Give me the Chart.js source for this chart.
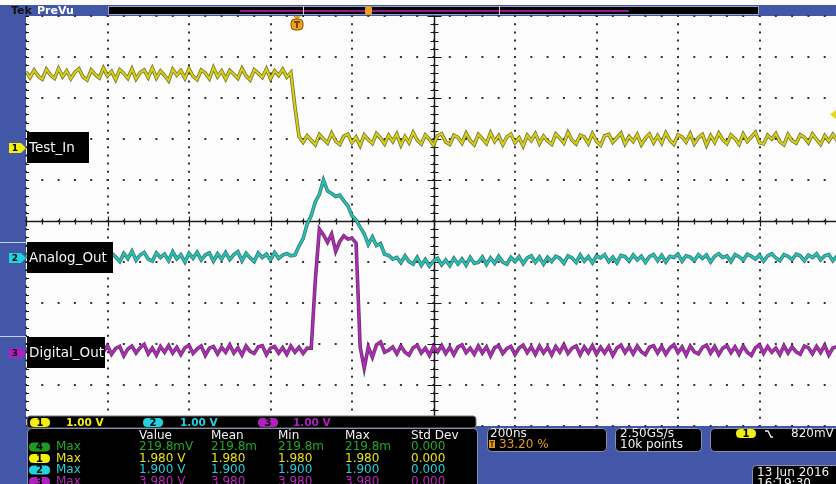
<!DOCTYPE html>
<html>
<head>
<meta charset="utf-8">
<script src="https://cdn.jsdelivr.net/npm/chart.js@4.4.1/dist/chart.umd.min.js"></script>
<style>
  html, body { margin: 0; padding: 0; overflow: hidden; background: #fff; }
  canvas { display: block; }
</style>
</head>
<body>
<canvas id="scope" width="846" height="484"></canvas>
<script>
// ---- sampled traces (volts, 1 V/div), one sample every 10 ns, screen = 2000 ns ----
const SAMPLE_NS = 10;
const TRIGGER_NS = 664;      // 33.20 % of the record
const TRIGGER_LEVEL_V = 0.82;

// Channel 1 - Test_In
const testInVolts = [
  1.86,1.72,1.90,1.75,1.68,1.92,1.78,1.70,1.94,1.74,
  1.88,1.69,1.85,1.93,1.73,1.66,1.90,1.79,1.71,1.95,
  1.76,1.87,1.67,1.91,1.82,1.70,1.93,1.68,1.84,1.90,
  1.72,1.95,1.71,1.88,1.77,1.64,1.92,1.78,1.89,1.70,
  1.93,1.75,1.67,1.90,1.83,1.69,1.96,1.74,1.88,1.68,
  1.89,1.80,1.70,1.94,1.76,1.66,1.91,1.82,1.72,1.93,
  1.69,1.88,1.77,1.92,1.73,1.84,
  1.00,0.28,
  0.14,0.30,0.19,0.08,0.33,0.22,0.12,0.36,0.17,0.09,
  0.29,0.34,0.13,0.27,0.06,0.32,0.20,0.11,0.35,0.24,
  0.10,0.31,0.16,0.34,0.07,0.28,0.13,0.38,0.19,0.10,
  0.32,0.21,0.07,0.30,0.35,0.15,0.09,0.31,0.26,0.12,
  0.36,0.18,0.08,0.33,0.23,0.11,0.37,0.16,0.30,0.08,
  0.27,0.34,0.13,0.25,0.05,0.31,0.18,0.35,0.11,0.29,
  0.17,0.09,0.34,0.24,0.12,0.38,0.19,0.10,0.31,0.27,
  0.11,0.35,0.17,0.07,0.30,0.33,0.14,0.25,0.36,0.10,
  0.28,0.16,0.33,0.08,0.24,0.34,0.13,0.30,0.12,0.37,
  0.19,0.09,0.32,0.27,0.15,0.35,0.10,0.25,0.33,0.07,
  0.30,0.14,0.36,0.20,0.11,0.32,0.23,0.09,0.34,0.16,
  0.27,0.38,0.13,0.10,0.31,0.22,0.35,0.15,0.08,0.33,
  0.18,0.12,0.32,0.26,0.13,0.34,0.21,0.09,0.30,0.17,
  0.33,0.19,0.27
];

// Channel 2 - Analog_Out
const analogOutVolts = [
  0.14,-0.01,0.19,0.03,-0.03,0.17,0.06,-0.02,0.20,0.02,
  0.13,-0.04,0.18,0.05,0.15,-0.05,0.14,0.01,0.19,0.04,
  -0.02,0.17,0.07,-0.04,0.16,0.03,0.21,-0.01,0.12,0.18,
  0.02,-0.03,0.17,0.06,0.14,-0.02,0.20,0.03,0.13,-0.05,
  0.16,0.04,0.19,0.00,0.12,0.17,-0.03,0.15,0.02,0.18,
  0.01,0.13,0.20,-0.02,0.16,0.05,-0.04,0.17,0.06,0.14,
  0.00,0.18,0.04,0.12,0.16,0.10,
  0.12,0.34,0.52,0.88,1.08,1.42,1.60,1.95,1.68,1.62,
  1.55,1.58,1.44,1.32,1.08,0.97,0.80,0.64,0.38,0.56,
  0.35,0.40,0.14,0.11,0.02,
  0.06,-0.07,0.10,-0.04,-0.10,0.06,-0.13,0.01,-0.15,-0.02,
  0.04,-0.12,0.00,-0.14,0.04,-0.10,0.02,-0.13,0.06,-0.08,
  -0.06,0.07,-0.11,0.05,-0.08,0.09,-0.05,-0.10,0.06,-0.04,
  0.08,-0.09,0.05,0.10,-0.06,0.07,-0.10,0.06,-0.04,0.09,
  0.04,-0.08,0.10,0.05,-0.06,0.12,-0.03,0.08,-0.07,0.10,
  0.05,0.13,-0.04,0.07,-0.07,0.11,0.08,-0.03,0.12,0.00,
  0.09,-0.06,0.08,0.13,-0.02,0.11,-0.05,0.09,0.06,0.14,
  -0.03,0.10,0.07,-0.02,0.13,0.04,0.12,-0.05,0.09,0.15,
  0.06,0.10,-0.04,0.13,0.08,-0.01,0.14,0.09,0.02,0.12,
  -0.03,0.10,0.15,0.05,-0.02,0.13,0.09,0.01,0.14,0.10,
  -0.02,0.12,0.06,0.15,0.00,0.10,0.13,-0.02,0.09,0.11
];

// Channel 3 - Digital_Out
const digitalOutVolts = [
  0.13,-0.03,0.18,0.01,0.15,-0.06,0.11,0.19,-0.01,0.16,
  -0.05,0.10,0.17,-0.02,0.13,0.20,0.01,-0.04,0.15,0.03,
  0.18,-0.03,0.11,0.16,-0.07,0.10,0.17,0.00,0.13,0.21,
  -0.02,0.12,-0.05,0.16,0.02,0.18,0.00,0.14,-0.04,0.13,
  0.19,-0.01,0.10,0.17,-0.06,0.12,0.16,-0.02,0.14,0.02,
  0.20,0.00,0.13,-0.05,0.17,0.04,-0.01,0.15,0.18,-0.04,
  0.12,0.16,0.00,0.13,-0.03,0.17,0.02,0.14,-0.01,0.12,
  0.12,1.78,3.02,2.88,2.70,2.90,2.48,2.72,2.86,2.78,
  2.80,2.68,0.15,-0.37,0.15,-0.10,0.20,0.27,0.02,0.07,
  0.15,-0.02,0.17,0.02,-0.05,0.13,0.19,0.00,0.12,-0.06,
  0.16,0.03,0.18,-0.01,0.14,-0.04,0.15,0.20,0.01,0.12,
  -0.03,0.17,0.00,0.15,-0.07,0.13,0.18,-0.01,0.11,0.16,
  -0.04,0.12,0.19,0.01,0.15,-0.03,0.17,0.00,0.14,-0.05,
  0.16,0.02,0.20,-0.01,0.12,0.17,-0.04,0.15,0.01,0.18,
  -0.03,0.14,0.00,0.16,-0.06,0.12,0.19,0.01,0.15,-0.02,
  0.17,0.03,-0.04,0.14,0.18,0.00,0.16,-0.03,0.12,0.20,
  0.01,0.15,-0.05,0.17,0.03,-0.02,0.14,0.19,0.00,0.16,
  -0.04,0.12,0.18,0.01,0.15,-0.03,0.17,0.02,-0.06,0.13,
  0.20,-0.01,0.16,0.02,0.12,-0.04,0.18,0.00,0.15,0.03,
  -0.03,0.17,0.13,-0.02,0.16,0.01,0.19,-0.05,0.12,0.15,
  0.02
];

// ground marker positions (divisions from screen centre)
const ch1OffsetDiv = 1.78;
const ch2OffsetDiv = -0.95;
const ch3OffsetDiv = -3.22;

const channelNames = ['Test_In', 'Analog_Out', 'Digital_Out'];
const channelScales = ['1.00 V', '1.00 V', '1.00 V'];

// measurement readout
const measHeader = ['Value', 'Mean', 'Min', 'Max', 'Std Dev'];
const measSources = ['4', '1', '2', '3'];
const measValues = [
  ['219.8mV', '219.8m', '219.8m', '219.8m', '0.000'],
  ['1.980 V', '1.980', '1.980', '1.980', '0.000'],
  ['1.900 V', '1.900', '1.900', '1.900', '0.000'],
  ['3.980 V', '3.980', '3.980', '3.980', '0.000']
];

const timeBase = '200ns';
const triggerPos = '33.20 %';
const sampleRate = '2.50GS/s';
const recordLen = '10k points';
const triggerText = '820mV';
const dateLine = '13 Jun 2016';
const timeLine = '16:19:30';

// ---- colours ----
const FRAME_BLUE = '#4357a8';
const CH_COLORS = ['#d6d01a', '#27c2b4', '#b02cb4'];
const CH_DARK = ['rgba(95,92,8,0.85)', 'rgba(18,96,90,0.85)', 'rgba(80,14,88,0.85)'];
const PILL_COLORS = ['#f2ee10', '#1fd4e0', '#b020c0'];
const MEAS_COLORS = ['#1fa82a', '#e8e414', '#22d0dc', '#b42cb8'];

function toPoints(values, offset) {
  return values.map((v, i) => ({ x: i * SAMPLE_NS, y: v + offset }));
}

const traces = [
  { data: toPoints(testInVolts, ch1OffsetDiv), ch: 0 },
  { data: toPoints(analogOutVolts, ch2OffsetDiv), ch: 1 },
  { data: toPoints(digitalOutVolts, ch3OffsetDiv), ch: 2 }
];

const datasets = [];
traces.forEach(t => {
  datasets.push({ data: t.data, borderColor: CH_COLORS[t.ch], borderWidth: 2, order: 1 });
  datasets.push({ data: t.data, borderColor: CH_DARK[t.ch], borderWidth: 3.6, order: 2 });
});

function roundRect(c, x, y, w, h, r) {
  c.beginPath();
  c.moveTo(x + r, y);
  c.lineTo(x + w - r, y);
  c.quadraticCurveTo(x + w, y, x + w, y + r);
  c.lineTo(x + w, y + h - r);
  c.quadraticCurveTo(x + w, y + h, x + w - r, y + h);
  c.lineTo(x + r, y + h);
  c.quadraticCurveTo(x, y + h, x, y + h - r);
  c.lineTo(x, y + r);
  c.quadraticCurveTo(x, y, x + r, y);
  c.closePath();
}

function pill(c, x, y, w, h, color, label) {
  c.save();
  roundRect(c, x, y, w, h, h / 2);
  c.fillStyle = color;
  c.fill();
  c.fillStyle = '#000';
  c.font = 'bold 10px "DejaVu Sans"';
  c.textAlign = 'center';
  c.textBaseline = 'middle';
  c.fillText(label, x + w / 2, y + h / 2 + 0.5);
  c.restore();
}

const scopeDecor = {
  id: 'scopeDecor',
  beforeDraw(chart) {
    const c = chart.ctx, W = chart.width, H = chart.height;
    c.save();
    c.fillStyle = '#fcfcfc';
    c.fillRect(0, 0, W, H);
    c.fillStyle = FRAME_BLUE;
    c.fillRect(0, 5, W, 11);
    c.fillRect(0, 5, 26, H);
    c.fillRect(0, 426, W, H - 426);
    c.restore();
  },
  beforeDatasetsDraw(chart) {
    const c = chart.ctx, xs = chart.scales.x, ys = chart.scales.y, a = chart.chartArea;
    const cx = Math.round(xs.getPixelForValue(1000)) + 0.5;
    const cy = Math.round(ys.getPixelForValue(0)) + 0.5;
    c.save();
    c.strokeStyle = '#1a1a1a';
    c.lineWidth = 1.5;
    c.beginPath();
    c.moveTo(cx, a.top); c.lineTo(cx, a.bottom);
    c.moveTo(a.left, cy); c.lineTo(a.right, cy);
    c.stroke();
    c.lineWidth = 1.2;
    c.beginPath();
    for (let t = 0; t <= 2000; t += 40) {
      const px = Math.round(xs.getPixelForValue(t)) + 0.5;
      const len = t % 200 === 0 ? 5 : 3;
      c.moveTo(px, cy - len); c.lineTo(px, cy + len);
    }
    for (let k = -25; k <= 25; k++) {
      const py = Math.round(ys.getPixelForValue(k / 5)) + 0.5;
      const len = k % 5 === 0 ? 7 : 4;
      c.moveTo(cx - len, py); c.lineTo(cx + len, py);
      c.moveTo(a.left, py); c.lineTo(a.left + 3, py);
    }
    c.stroke();
    c.restore();
  },
  afterDatasetsDraw(chart) {
    const c = chart.ctx, xs = chart.scales.x, ys = chart.scales.y;
    c.save();

    // --- top bar ---
    c.textBaseline = 'middle';
    c.font = 'bold 11px "DejaVu Sans"';
    c.fillStyle = '#111';
    c.fillText('Tek', 11, 11);
    c.fillStyle = '#fff';
    c.fillText('PreVu', 37, 11);
    c.fillStyle = '#000';
    c.fillRect(108, 6, 651, 9);
    c.strokeStyle = '#9aa0c0';
    c.lineWidth = 1;
    c.strokeRect(108.5, 6.5, 650, 8);
    c.strokeStyle = '#8c1a8c';
    c.lineWidth = 2;
    c.beginPath(); c.moveTo(240, 11); c.lineTo(629, 11); c.stroke();
    c.strokeStyle = '#d0d0d0';
    c.lineWidth = 1;
    c.beginPath();
    c.moveTo(303.5, 6); c.lineTo(303.5, 15);
    c.moveTo(499.5, 6); c.lineTo(499.5, 15);
    c.stroke();
    roundRect(c, 365, 6, 7, 9, 2);
    c.fillStyle = '#e8a020'; c.fill();

    // --- trigger position marker ---
    const tx = Math.round(xs.getPixelForValue(TRIGGER_NS));
    c.fillStyle = '#e8a020';
    c.beginPath(); c.moveTo(tx - 4, 16); c.lineTo(tx + 4, 16); c.lineTo(tx, 20); c.closePath(); c.fill();
    roundRect(c, tx - 6, 19, 12, 11, 4);
    c.fillStyle = '#eba21c'; c.fill();
    c.strokeStyle = '#8a5200'; c.lineWidth = 1; c.stroke();
    c.fillStyle = '#7a4600';
    c.fillRect(tx - 3, 21, 6, 2);
    c.fillRect(tx - 1, 21, 2, 7);

    // --- trigger level marker (right edge) ---
    const ty = ys.getPixelForValue(ch1OffsetDiv + TRIGGER_LEVEL_V);
    c.fillStyle = '#e0dc18';
    c.beginPath();
    c.moveTo(830, ty); c.lineTo(835, ty - 4); c.lineTo(841, ty - 4); c.lineTo(841, ty + 4); c.lineTo(835, ty + 4);
    c.closePath(); c.fill();

    // --- channel labels and ground markers ---
    const boxW = [62, 86, 78];
    const markY = [148, 258, 353];
    for (let i = 0; i < 3; i++) {
      const my = markY[i];
      c.fillStyle = '#000';
      c.fillRect(27, my - 16, boxW[i], 31);
      c.fillStyle = '#f4f4f4';
      c.font = '13.5px "DejaVu Sans"';
      c.textBaseline = 'middle';
      c.fillText(channelNames[i], 29, my);
      c.beginPath();
      c.moveTo(9, my - 5); c.lineTo(21, my - 5); c.lineTo(26, my); c.lineTo(21, my + 5); c.lineTo(9, my + 5);
      c.closePath();
      c.fillStyle = PILL_COLORS[i]; c.fill();
      c.fillStyle = '#000';
      c.font = 'bold 9px "DejaVu Sans"';
      c.textAlign = 'center';
      c.fillText(String(i + 1), 15, my + 0.5);
      c.textAlign = 'left';
    }
    c.fillStyle = '#c8d0f0';
    c.fillRect(0, 242, 26, 1);
    c.fillRect(0, 336, 26, 1);

    // --- channel scale bar ---
    roundRect(c, 27, 416, 449, 12, 3);
    c.fillStyle = '#000'; c.fill();
    c.strokeStyle = '#777'; c.lineWidth = 1; c.stroke();
    const pillX = [30, 143, 258];
    const scaleX = [66, 180, 293];
    for (let i = 0; i < 3; i++) {
      pill(c, pillX[i], 418, 20, 9, PILL_COLORS[i], String(i + 1));
      c.fillStyle = PILL_COLORS[i];
      c.font = 'bold 10.5px "DejaVu Sans"';
      c.textBaseline = 'middle';
      c.fillText(channelScales[i], scaleX[i], 423);
    }

    // --- measurement table ---
    roundRect(c, 27.5, 428.5, 450, 70, 4);
    c.fillStyle = '#000'; c.fill();
    c.strokeStyle = '#8890b0'; c.stroke();
    const colX = [139, 211, 278, 345, 411];
    c.font = '12px "DejaVu Sans"';
    c.fillStyle = '#f0f0f0';
    measHeader.forEach((h, j) => c.fillText(h, colX[j], 436));
    const rowY = [447, 458.5, 470, 481.5];
    measValues.forEach((row, r) => {
      pill(c, 29, rowY[r] - 4.5, 21, 9, r === 0 ? '#1f9a25' : PILL_COLORS[r - 1], measSources[r]);
      c.fillStyle = MEAS_COLORS[r];
      c.font = '12px "DejaVu Sans"';
      c.fillText('Max', 56, rowY[r]);
      row.forEach((v, j) => c.fillText(v, colX[j], rowY[r]));
    });

    // --- horizontal / acquisition / trigger panels ---
    function panel(x, y, w, h) {
      roundRect(c, x + 0.5, y + 0.5, w, h, 4);
      c.fillStyle = '#000'; c.fill();
      c.strokeStyle = '#8890b0'; c.lineWidth = 1; c.stroke();
    }
    panel(487, 428, 119, 23);
    panel(615, 428, 86, 23);
    panel(710, 428, 140, 23);
    panel(752, 465, 100, 30);
    c.font = '12px "DejaVu Sans"';
    c.fillStyle = '#f0f0f0';
    c.fillText(timeBase, 490, 434);
    c.fillStyle = '#e89a1c';
    c.fillRect(489, 440, 6, 8);
    c.fillStyle = '#6a3c00';
    c.fillRect(490, 441, 4, 1.5);
    c.fillRect(491.2, 441, 1.5, 6);
    c.fillStyle = '#e89a1c';
    c.fillText(triggerPos, 499, 445);
    c.fillStyle = '#f0f0f0';
    c.fillText(sampleRate, 620, 434);
    c.fillText(recordLen, 620, 445);
    pill(c, 736, 429, 20, 9, PILL_COLORS[0], '1');
    c.strokeStyle = '#f0f0f0';
    c.lineWidth = 1.4;
    c.beginPath();
    c.moveTo(765, 431); c.lineTo(768, 431); c.lineTo(771, 437); c.lineTo(773, 437);
    c.stroke();
    c.font = '12px "DejaVu Sans"';
    c.fillStyle = '#f0f0f0';
    c.fillText(triggerText, 791, 434);
    c.fillText(dateLine, 757, 473);
    c.fillText(timeLine, 757, 484);

    c.restore();
  }
};

new Chart(document.getElementById('scope'), {
  type: 'line',
  data: { datasets },
  options: {
    responsive: false,
    animation: false,
    devicePixelRatio: 1,
    layout: { padding: { left: 26, top: 16, right: 5, bottom: 58 } },
    plugins: { legend: { display: false }, tooltip: { enabled: false } },
    elements: { point: { radius: 0 }, line: { tension: 0 } },
    scales: {
      x: {
        type: 'linear', min: 0, max: 2000,
        ticks: { display: false, stepSize: 200 },
        grid: { color: '#333', lineWidth: 2, drawTicks: false },
        border: { display: false, dash: [2, 6.2], dashOffset: 1 }
      },
      y: {
        type: 'linear', min: -5, max: 5,
        ticks: { display: false, stepSize: 1 },
        grid: { color: '#333', lineWidth: 2, drawTicks: false },
        border: { display: false, dash: [2, 14.3], dashOffset: 1 }
      }
    }
  },
  plugins: [scopeDecor]
});
</script>
</body>
</html>
